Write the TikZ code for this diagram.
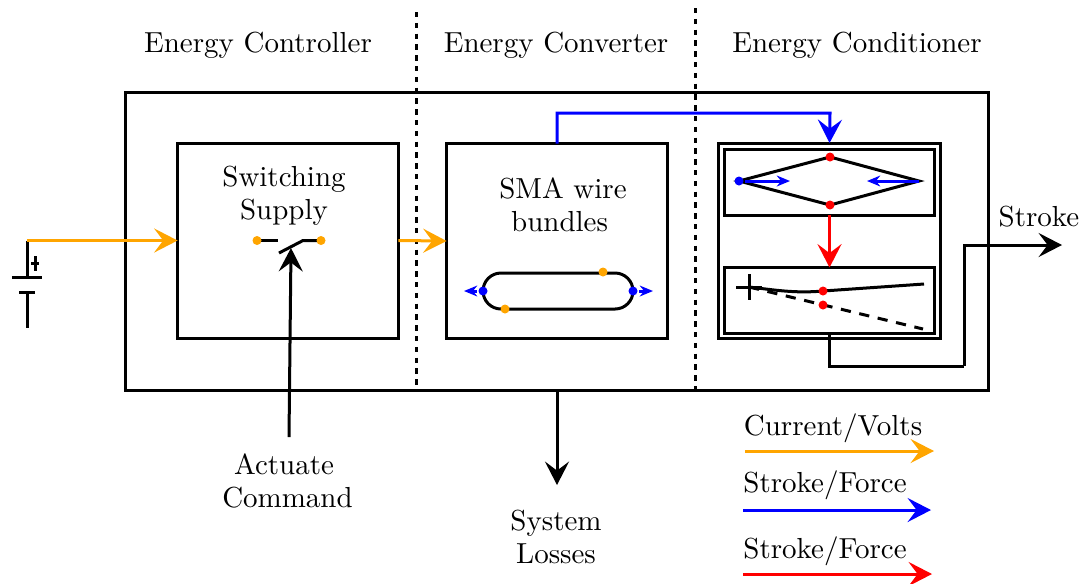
\documentclass[tikz,border=0pt]{standalone}
\usepackage{xcolor}
\usepackage{tikz}
\usetikzlibrary{arrows.meta, positioning}
\definecolor{current}{RGB}{255,165,0}

\begin{document}
\begin{tikzpicture}[
    x=0.3333pt, y=-0.3333pt,
    line width=1pt,
    box/.style={rectangle, draw, inner sep=0pt, outer sep=0pt},
    arrow/.style={-{Stealth[length=7.8pt,width=8pt,inset=3pt]}, line width=1pt},
    minarrow/.style={-{Stealth[length=4.4pt,width=3.6pt]}, line width=1pt},
    dot/.style={circle, fill=#1, inner sep=0pt, minimum size=3pt},
    label/.style={align=center, font=\fontsize{9.66}{11}\selectfont, inner sep=0pt},
    divider/.style={dash pattern=on 1.8pt off 1.8pt, line width=1pt},
]
\useasboundingbox (0,0) rectangle (1084,583);

% boxes
\node[box, minimum width=287.6pt, minimum height=99pt] (system) at (557,241.5) {};
\node[box, minimum width=73.6pt, minimum height=65pt] (supply) at (288,240.5) {};
\node[box, minimum width=73.6pt, minimum height=65pt] (wires) at (557,241) {};
\node[box, minimum width=74.3pt, minimum height=65.3pt] (cond) at (829.5,241) {};
\node[box, minimum width=70.3pt, minimum height=22pt] (flexup) at (829.5,182) {};
\node[box, minimum width=70.3pt, minimum height=22pt] (flexlow) at (829.5,300.5) {};

% headings
\node[label] (hctrl) at (258,45.5) {Energy Controller};
\node[label] (hconv) at (556,45.5) {Energy Converter};
\node[label] (hcond) at (857,45.5) {Energy Conditioner};
\node[label] (lsupply) at (284,195.5) {Switching\\Supply};
\node[label] (lwires) at (563,205) {SMA wire\\bundles\hspace*{2.3pt}};
\node[label] (lstroke) at (1039,217) {Stroke};
\node[label] (lcmd) at (287.5,481) {Actuate\hspace*{2.3pt}\\Command};
\node[label] (lloss) at (556,537) {System\\Losses};
\node[label] (lvolts) at (833,428.5) {Current/Volts};
\node[label] (lforce) at (825,485.5) {Stroke/Force};
\node[label] (lforceb) at (825,551) {Stroke/Force};

% dividers
\coordinate (diva) at (416,12);
\coordinate (divb) at (416,390);
\coordinate (divc) at (695,8);
\coordinate (divd) at (695,390);
\draw[divider] (diva) -- (divb);
\draw[divider] (divc) -- (divd);

% battery
\coordinate (batt) at (27,240.5);
\coordinate (platea) at (27,277);
\coordinate (plateb) at (27,292);
\coordinate (battend) at (27,328);
\draw (batt) -- (platea);
\draw ([xshift=-5pt]platea) -- ([xshift=5pt]platea);
\draw ([xshift=-2.6pt]plateb) -- ([xshift=2.6pt]plateb);
\draw (plateb) -- (battend);
\coordinate (plus) at (35,263);
\draw ([xshift=-1.3pt]plus) -- ([xshift=1.3pt]plus);
\draw ([yshift=-2.5pt]plus) -- ([yshift=2.5pt]plus);

% switch
\coordinate (swc) at (278,240.5);
\coordinate (swd) at (279,253);
\coordinate (swe) at (303,240.5);
\coordinate (swf) at (257,240.5);
\coordinate (swg) at (321,240.5);
\draw (swf) -- (swc);
\draw (swd) -- (swe) -- (swg);
\node[dot=current] (swa) at (swf) {};
\node[dot=current] (swb) at (swg) {};

% wire loop
\draw[rounded corners=6pt] (483,273) rectangle (633,309);
\node[dot=blue] (wa) at (483,291) {};
\node[dot=blue] (wb) at (633,291) {};
\node[dot=current] (wc) at (603,272) {};
\node[dot=current] (wd) at (505,309) {};
\coordinate (we) at (464,291);
\coordinate (wf) at (653,291);
\draw[minarrow, blue] (wa) -- (we);
\draw[minarrow, blue] (wb) -- (wf);

% upper flexure
\coordinate (ug) at (739,181);
\coordinate (uh) at (830,157);
\coordinate (uc) at (919,181);
\coordinate (ui) at (830,205);
\draw (ug) -- (uh) -- (uc) -- (ui) -- cycle;
\node[dot=blue] (ua) at (ug) {};
\node[dot=red] (ub) at (uh) {};
\node[dot=red] (ud) at (ui) {};
\coordinate (ue) at (790,181);
\coordinate (uf) at (867,181);
\draw[minarrow, blue] (ua) -- (ue);
\draw[minarrow, blue] (uc) -- (uf);

% lower flexure
\coordinate (pivot) at (749,287);
\coordinate (la) at (736,287);
\coordinate (lb) at (762,287);
\coordinate (lc) at (749,274);
\coordinate (ld) at (749,300);
\coordinate (li) at (823,291);
\coordinate (lj) at (823,305);
\coordinate (lg) at (924,284);
\coordinate (lh) at (923,329);
\draw (la) -- (lb);
\draw (lc) -- (ld);
\draw (pivot) .. controls (775,290) and (795,293.5) .. (li) -- (lg);
\draw[dash pattern=on 3.4pt off 2.9pt] (pivot) -- (lh);
\node[dot=red] (le) at (li) {};
\node[dot=red] (lf) at (lj) {};

% connectors
\coordinate (route) at (830,113);
\coordinate (outa) at (964,366);
\coordinate (outb) at (1062,245);
\coordinate (cmdtop) at (291,248);
\coordinate (cmdend) at (289,437);
\coordinate (lossend) at (557,485);
\draw[arrow, current] (batt) -- (supply.west);
\draw[arrow, current] (supply.east) -- (wires.west);
\draw[arrow] (cmdend) -- (cmdtop);
\draw[arrow, blue] (wires.north) |- (route) -- (cond.north);
\draw[arrow, red] (flexup.south) -- (flexlow.north);
\draw (flexlow.south) |- (outa);
\draw[arrow] (outa) |- (outb);
\draw[arrow] (system.south) -- (lossend);

% legend
\coordinate (ka) at (745,451);
\coordinate (kb) at (934,451);
\coordinate (kc) at (743,510);
\coordinate (kd) at (931,510);
\coordinate (ke) at (743,574);
\coordinate (kf) at (932,574);
\draw[arrow, current] (ka) -- (kb);
\draw[arrow, blue] (kc) -- (kd);
\draw[arrow, red] (ke) -- (kf);
\end{tikzpicture}
\end{document}
